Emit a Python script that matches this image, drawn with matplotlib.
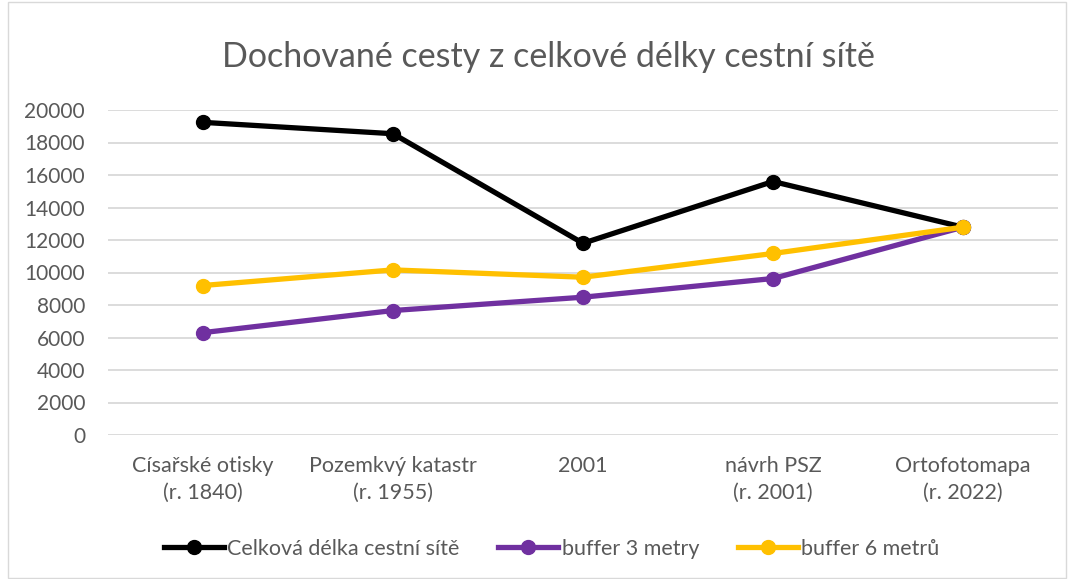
import numpy as np
import matplotlib.pyplot as plt
from matplotlib.patches import Rectangle

# data
categories = ['Císařské otisky\n(r. 1840)', 'Pozemkvý katastr\n(r. 1955)', '2001',
              'návrh PSZ\n(r. 2001)', 'Ortofotomapa\n(r. 2022)']
celkova = [19240, 18540, 11800, 15600, 12790]
buffer3 = [6300, 7660, 8480, 9630, 12790]
buffer6 = [9200, 10160, 9710, 11170, 12790]

grey = '#595959'
plt.rcParams['font.family'] = ['Lato', 'DejaVu Sans']

fig = plt.figure(figsize=(10.74, 5.79), dpi=100)
ax = fig.add_axes([108/1074, 1-435/579, 950/1074, 325/579])

x = np.arange(len(categories))
ax.plot(x, celkova, color='black', lw=3.8, marker='o', ms=10, label='Celková délka cestní sítě', zorder=3)
ax.plot(x, buffer3, color='#7030a0', lw=3.8, marker='o', ms=10, label='buffer 3 metry', zorder=4)
ax.plot(x, buffer6, color='#ffc000', lw=3.8, marker='o', ms=10, label='buffer 6 metrů', zorder=5)

ax.set_xlim(-0.5, 4.5)
ax.set_ylim(0, 20000)
ax.set_yticks(np.arange(0, 20001, 2000))
ax.set_xticks(x)
ax.set_xticklabels(categories, linespacing=1.45)
ax.tick_params(axis='x', length=0, labelsize=15.5, labelcolor=grey, pad=15)
ax.tick_params(axis='y', length=0, labelsize=15, labelcolor=grey, pad=16.5)
ax.grid(axis='y', color='#d9d9d9', lw=1.3)
ax.set_axisbelow(True)
for s in ax.spines.values():
    s.set_visible(False)

fig.text(548/1074, 1-57/579, 'Dochované cesty z celkové délky cestní sítě', ha='center', va='center',
         fontsize=24.5, color=grey)

leg = ax.legend(loc='center', bbox_to_anchor=(0.467, -0.35), ncol=3, frameon=False,
                fontsize=15.5, handlelength=2.8, columnspacing=1.8, handletextpad=0.15)
for t in leg.get_texts():
    t.set_color(grey)

fig.patches.append(Rectangle((8/1074, 0.002), 1-16/1074, 0.994, transform=fig.transFigure,
                             fill=False, edgecolor='#d9d9d9', lw=1))

fig.savefig('out.png', dpi=100)
